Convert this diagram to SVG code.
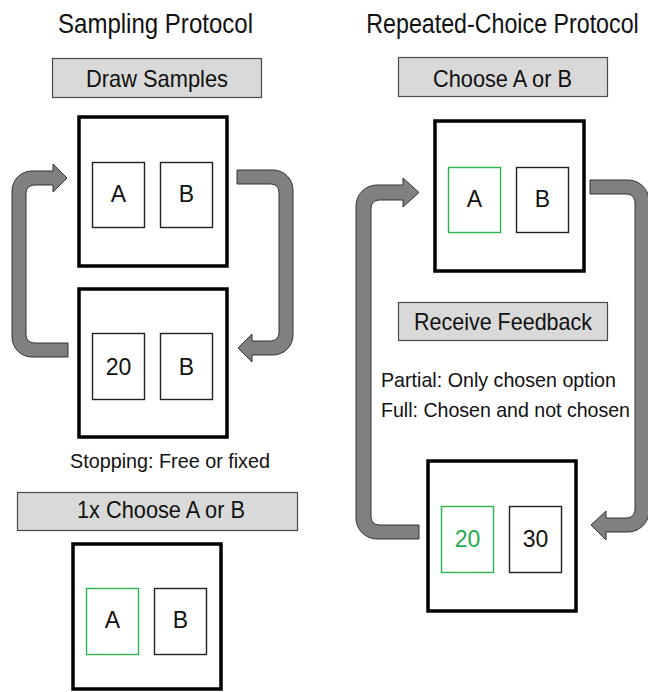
<svg xmlns="http://www.w3.org/2000/svg" width="648" height="692" viewBox="0 0 648 692">
<style>
text { font-family: "Liberation Sans Narrow", "Liberation Sans", Arial, sans-serif; fill: #111; }
.title { font-size: 28px; text-anchor: middle; }
.lbl { font-size: 24px; text-anchor: middle; }
.note { font-size: 21px; }
.val { font-size: 23px; text-anchor: middle; }
.green { fill: #22ac4c; }
.big { fill: #fff; stroke: #000; stroke-width: 3.5; }
.opt { fill: #fff; stroke: #222; stroke-width: 1.4; }
.optg { fill: #fff; stroke: #2bb34f; stroke-width: 1.4; }
.bar { fill: #d9d9d9; stroke: #4a4a4a; stroke-width: 1.2; }
.arrow { fill: #808080; stroke: #333; stroke-width: 1; stroke-linejoin: miter; }
</style>
<rect width="648" height="692" fill="#fff"/>

<g id="titles">
<text class="title" x="155.5" y="33" textLength="195" lengthAdjust="spacingAndGlyphs">Sampling Protocol</text>
<text class="title" transform="translate(502.5,33) scale(0.83,1)" x="0" y="0">Repeated-Choice Protocol</text>
</g>

<g id="connectors">
<path class="arrow" d="M 68 343 L 34 343 A 8 8 0 0 1 26 335 L 26 193 A 8 8 0 0 1 34 185 L 53 185 L 53 192 L 67 178 L 53 164 L 53 171 L 32 171 A 20 20 0 0 0 12 191 L 12 337 A 20 20 0 0 0 32 357 L 68 357 Z"/>
<path class="arrow" d="M 237 170 L 273 170 A 20 20 0 0 1 293 190 L 293 335 A 20 20 0 0 1 273 355 L 252 355 L 252 362 L 238 348 L 252 334 L 252 341 L 271 341 A 8 8 0 0 0 279 333 L 279 192 A 8 8 0 0 0 271 184 L 237 184 Z"/>
<path class="arrow" d="M 419 525 L 379 525 A 8 8 0 0 1 371 517 L 371 208 A 8 8 0 0 1 379 200 L 403 200 L 403 207 L 419 192.5 L 403 178 L 403 185 L 377 185 A 21 21 0 0 0 356 206 L 356 518 A 21 21 0 0 0 377 539 L 419 539 Z"/>
<path class="arrow" d="M 590 180 L 628 180 A 21 21 0 0 1 649 201 L 649 511 A 21 21 0 0 1 628 532 L 606 532 L 606 540 L 591 525 L 606 511 L 606 518 L 627 518 A 8 8 0 0 0 635 510 L 635 202 A 8 8 0 0 0 627 194 L 590 194 Z"/>
</g>

<g id="draw-samples-label">
<rect class="bar" x="52.5" y="58.5" width="209" height="39"/>
<text class="lbl" x="157" y="87" textLength="142" lengthAdjust="spacingAndGlyphs">Draw Samples</text>
</g>

<g id="sample-options">
<rect class="big" x="79" y="117" width="148" height="149"/>
<rect class="opt" x="92.5" y="162.5" width="52" height="65"/>
<text class="val" x="118.5" y="202">A</text>
<rect class="opt" x="160.5" y="162.5" width="52" height="65"/>
<text class="val" x="186.5" y="202">B</text>
</g>

<g id="sample-outcome">
<rect class="big" x="79" y="289" width="148" height="148"/>
<rect class="opt" x="92.5" y="333.5" width="52" height="66"/>
<text class="val" x="118.5" y="375">20</text>
<rect class="opt" x="160.5" y="333.5" width="52" height="66"/>
<text class="val" x="186.5" y="375">B</text>
</g>

<g id="stopping-note">
<text class="note" x="70" y="468" textLength="200" lengthAdjust="spacingAndGlyphs">Stopping: Free or fixed</text>
</g>

<g id="final-choice-label">
<rect class="bar" x="17.5" y="492.5" width="280" height="38"/>
<text class="lbl" x="161" y="518" textLength="168" lengthAdjust="spacingAndGlyphs">1x Choose A or B</text>
</g>

<g id="final-choice">
<rect class="big" x="73" y="544" width="148" height="145"/>
<rect class="optg" x="86.5" y="588.5" width="52" height="66"/>
<text class="val" x="112.5" y="628">A</text>
<rect class="opt" x="154.5" y="588.5" width="52" height="66"/>
<text class="val" x="180.5" y="628">B</text>
</g>

<g id="choose-label">
<rect class="bar" x="398.5" y="57.5" width="209" height="39"/>
<text class="lbl" x="502.5" y="87" textLength="139" lengthAdjust="spacingAndGlyphs">Choose A or B</text>
</g>

<g id="repeated-choice">
<rect class="big" x="435" y="121" width="149" height="150"/>
<rect class="optg" x="448.5" y="167.5" width="52" height="65"/>
<text class="val" x="474.5" y="207">A</text>
<rect class="opt" x="516.5" y="167.5" width="52" height="65"/>
<text class="val" x="542.5" y="207">B</text>
</g>

<g id="feedback-label">
<rect class="bar" x="398.5" y="302.5" width="209" height="38"/>
<text class="lbl" x="503" y="330" textLength="178" lengthAdjust="spacingAndGlyphs">Receive Feedback</text>
</g>

<g id="feedback-note">
<text class="note" x="381" y="387" textLength="235" lengthAdjust="spacingAndGlyphs">Partial: Only chosen option</text>
<text class="note" x="381" y="417" textLength="249" lengthAdjust="spacingAndGlyphs">Full: Chosen and not chosen</text>
</g>

<g id="feedback-outcome">
<rect class="big" x="428" y="461" width="148" height="150"/>
<rect class="optg" x="441.5" y="506.5" width="52" height="66"/>
<text class="val green" x="467.5" y="547">20</text>
<rect class="opt" x="509.5" y="506.5" width="52" height="66"/>
<text class="val" x="535.5" y="547">30</text>
</g>
</svg>
